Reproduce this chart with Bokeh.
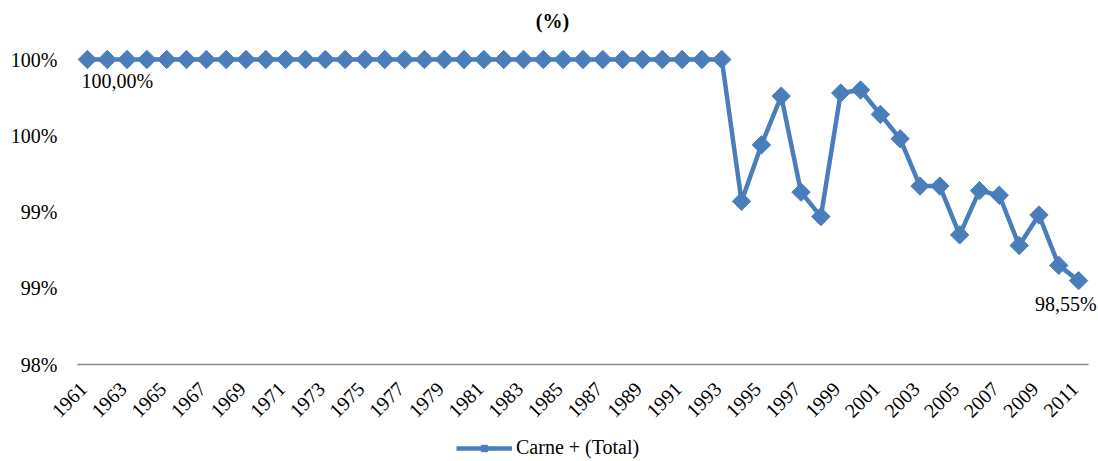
import math
from bokeh.plotting import figure
from bokeh.models import Range1d, Legend, LegendItem, ColumnDataSource, Label
from bokeh.core.properties import value
from bokeh.embed import file_html
from bokeh.resources import INLINE

years = list(range(1961, 2012))
carne_total = [100.0] * 33 + [99.07, 99.44, 99.76, 99.13, 98.97, 99.78, 99.80, 99.64, 99.48,
                              99.17, 99.17, 98.85, 99.14, 99.11, 98.78, 98.98, 98.65, 98.55]
series_name = "Carne + (Total)"
title_text = "(%)"
y_ticks = [98.0, 98.5, 99.0, 99.5, 100.0]
y_tick_labels = ["98%", "99%", "99%", "100%", "100%"]
x_ticks = list(range(1961, 2012, 2))

FONT = "Liberation Serif"
BLUE = "#4a7ebb"
FS = "20px"

# layout constants (pixels)
CANVAS_W, CANVAS_H = 1098, 461
AXIS_LEFT_PX, AXIS_RIGHT_PX = 77, 1088          # extent of the plot area
PLOT_TOP_PX, PLOT_BOTTOM_PX = 59, 364           # where 100% and 98% sit
px_per_unit = (PLOT_BOTTOM_PX - PLOT_TOP_PX) / (y_ticks[-1] - y_ticks[0])
y_hi = y_ticks[-1] + PLOT_TOP_PX / px_per_unit
y_lo = y_ticks[0] - (CANVAS_H - PLOT_BOTTOM_PX) / px_per_unit
axis_x0, axis_x1 = years[0] - 0.5, years[-1] + 0.5
px_per_year = (AXIS_RIGHT_PX - AXIS_LEFT_PX) / (axis_x1 - axis_x0)
x_lo = axis_x0 - AXIS_LEFT_PX / px_per_year
x_hi = axis_x1 + (CANVAS_W - AXIS_RIGHT_PX) / px_per_year

p = figure(frame_width=CANVAS_W, frame_height=CANVAS_H, output_backend="svg",
           toolbar_location=None, x_range=Range1d(x_lo, x_hi), y_range=Range1d(y_lo, y_hi),
           min_border_left=0, min_border_right=0, min_border_top=0, min_border_bottom=0)
p.outline_line_color = None
p.grid.visible = False
p.xaxis.visible = False
p.yaxis.visible = False

# category (x) axis baseline at 98%
p.segment(x0=[axis_x0], y0=[y_ticks[0]], x1=[axis_x1], y1=[y_ticks[0]],
          line_color="#868686", line_width=1.5)

# value (y) axis labels
p.text(x=[axis_x0] * len(y_ticks), y=y_ticks, text=y_tick_labels,
       text_align="right", text_baseline="middle", text_font=value(FONT),
       text_font_size=FS, text_color="#000000", x_offset=-20)

# year labels, rotated
p.text(x=x_ticks, y=[y_ticks[0]] * len(x_ticks), text=[str(t) for t in x_ticks],
       angle=math.pi / 4, text_align="right", text_baseline="middle",
       text_font=value(FONT), text_font_size=FS, text_color="#000000",
       x_offset=-4, y_offset=21)

src = ColumnDataSource(dict(x=years, y=carne_total))
ln = p.line("x", "y", source=src, line_color=BLUE, line_width=4.5)
mk = p.scatter("x", "y", source=src, marker="square", angle=math.pi / 4, size=13,
               fill_color=BLUE, line_color=BLUE)

# data labels for first and last point
first_lbl = f"{carne_total[0]:.2f}".replace(".", ",") + "%"
last_lbl = f"{carne_total[-1]:.2f}".replace(".", ",") + "%"
p.text(x=[years[0]], y=[carne_total[0]], text=[first_lbl], text_font=value(FONT),
       text_font_size=FS, text_align="left", text_baseline="top",
       x_offset=-6, y_offset=10, text_color="#000000")
p.text(x=[years[-1]], y=[carne_total[-1]], text=[last_lbl], text_font=value(FONT),
       text_font_size=FS, text_align="right", text_baseline="top",
       x_offset=18, y_offset=12, text_color="#000000")

# chart title centred on the whole chart
title_x = x_lo + (CANVAS_W / 2 + 3) / px_per_year
title_y = y_ticks[-1] + (PLOT_TOP_PX - 20) / px_per_unit
p.add_layout(Label(x=title_x, y=title_y, text=title_text, text_font=FONT,
                   text_font_size=FS, text_font_style="bold", text_color="#000000",
                   text_align="center", text_baseline="middle"))

legend = Legend(items=[LegendItem(label=series_name, renderers=[ln, mk])],
                orientation="horizontal", location=(456, 2),
                label_text_font=FONT, label_text_font_size=FS, label_text_color="#000000",
                glyph_width=56, glyph_height=16, border_line_color=None,
                background_fill_alpha=0, padding=0, margin=0, label_standoff=4)
p.add_layout(legend, "center")

open("out.html", "w").write(file_html(p, INLINE))
